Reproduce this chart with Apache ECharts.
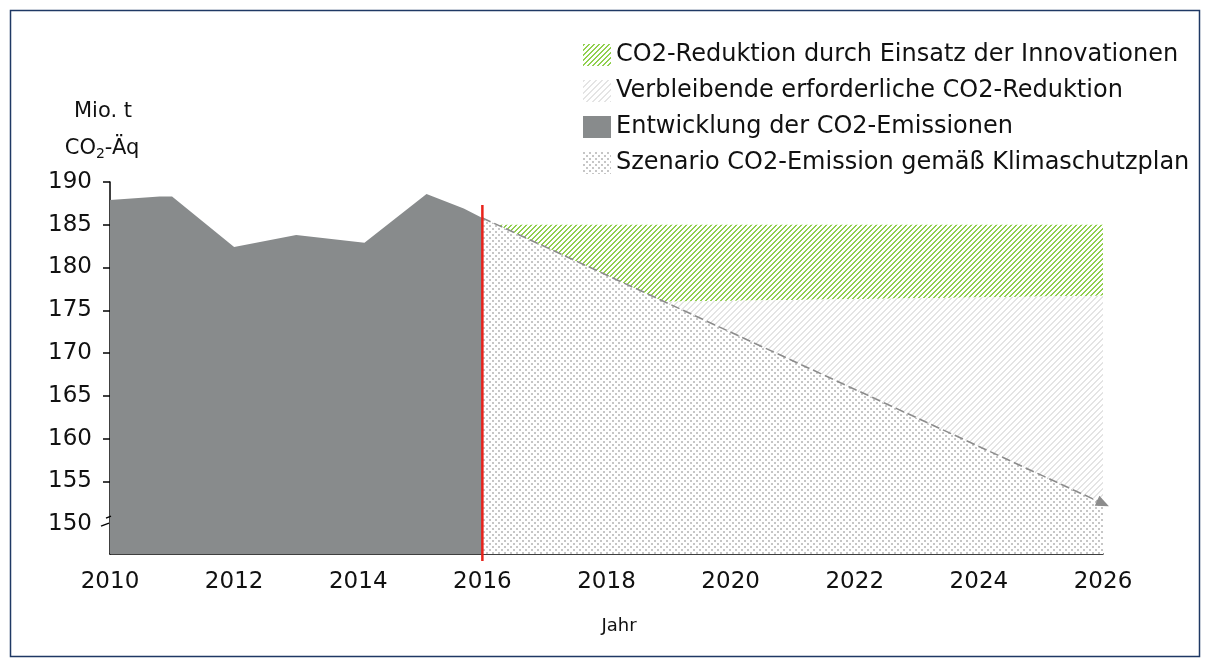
<!DOCTYPE html>
<html>
<head>
<meta charset="utf-8">
<script src="https://cdn.jsdelivr.net/npm/echarts@6/dist/echarts.min.js"></script>
<style>
html,body{margin:0;padding:0;background:#fff;}
#chart{width:1206px;height:662px;}
</style>
</head>
<body>
<div id="chart"></div>
<script>
// ---- data ----
const xTicks = [2010, 2012, 2014, 2016, 2018, 2020, 2022, 2024, 2026];
const yTicks = [150, 155, 160, 165, 170, 175, 180, 185, 190];
const emissionYears  = [2010, 2010.8, 2011, 2012, 2013, 2014.1, 2015.1, 2015.7, 2016];
const emissionValues = [187.9, 188.3, 188.3, 182.4, 183.8, 182.9, 188.6, 186.9, 185.8];
const scenarioYears  = [2016, 2026];
const scenarioValues = [185.8, 152.4];
const innovationTop = 185.0;
const innovationBottomYears  = [2018.93, 2026];
const innovationBottomValues = [176.0, 176.7];
const markerYear = 2016;
const markerTop = 187.3;
const yMin = 146.5, yMax = 190;

const names = {
  green: 'CO2-Reduktion durch Einsatz der Innovationen',
  light: 'Verbleibende erforderliche CO2-Reduktion',
  grey: 'Entwicklung der CO2-Emissionen',
  dots: 'Szenario CO2-Emission gemäß Klimaschutzplan'
};

// ---- patterns ----
function stripes(fg, bg, size, width) {
  const c = document.createElement('canvas');
  c.width = size; c.height = size;
  const ctx = c.getContext('2d');
  ctx.fillStyle = bg; ctx.fillRect(0, 0, size, size);
  ctx.fillStyle = fg;
  for (let x = 0; x < size; x++) for (let y = 0; y < size; y++) {
    if ((x + y) % size < width) ctx.fillRect(x, y, 1, 1);
  }
  return { image: c, repeat: 'repeat' };
}
function dots(fg, bg) {
  const c = document.createElement('canvas');
  c.width = 6; c.height = 6;
  const ctx = c.getContext('2d');
  ctx.fillStyle = bg; ctx.fillRect(0, 0, 6, 6);
  ctx.fillStyle = fg;
  ctx.fillRect(0, 0, 2, 2);
  ctx.fillRect(3, 3, 2, 2);
  return { image: c, repeat: 'repeat' };
}
const greenPat = stripes('#92d050', '#ffffff', 5, 2);
const lightPat = stripes('#e4e4e4', '#ffffff', 6, 2);
const dotPat = dots('#c6c6c6', '#ffffff');
const greyCol = '#888b8c';

function scenarioYearAt(v) {
  const [x0, x1] = scenarioYears, [y0, y1] = scenarioValues;
  return x0 + (v - y0) * (x1 - x0) / (y1 - y0);
}

function polySeries(name, fill, pointsFn, z) {
  return {
    type: 'custom', name: name, z: z,
    itemStyle: { color: fill },
    data: [0],
    renderItem: function (params, api) {
      const pts = pointsFn().map(p => api.coord(p));
      return { type: 'polygon', shape: { points: pts }, style: { fill: fill, stroke: null } };
    }
  };
}

const chart = echarts.init(document.getElementById('chart'), null, { renderer: 'canvas' });
const FONT = 'DejaVu Sans';

const option = {
  animation: false,
  backgroundColor: '#ffffff',
  textStyle: { fontFamily: FONT },
  grid: { left: 110, right: 103, top: 182, bottom: 108 },
  legend: {
    orient: 'vertical', left: 578, top: 38,
    itemWidth: 28, itemHeight: 22, itemGap: 12,
    textStyle: { fontFamily: FONT, fontSize: 24, color: '#111' },
    data: [
      { name: names.green, icon: 'rect', itemStyle: { color: greenPat } },
      { name: names.light, icon: 'rect', itemStyle: { color: lightPat } },
      { name: names.grey, icon: 'rect', itemStyle: { color: greyCol } },
      { name: names.dots, icon: 'rect', itemStyle: { color: dotPat } }
    ],
    selectedMode: false
  },
  xAxis: {
    type: 'value', min: xTicks[0], max: xTicks[xTicks.length - 1], interval: 2,
    axisLine: { lineStyle: { color: '#000', width: 1.5 } },
    axisTick: { show: false },
    splitLine: { show: false },
    axisLabel: { customValues: xTicks, formatter: v => String(v), fontFamily: FONT, fontSize: 23, color: '#111', margin: 17 }
  },
  yAxis: {
    type: 'value', min: yMin, max: yMax,
    axisLine: { show: true, onZero: false, lineStyle: { color: '#000', width: 1.5 } },
    axisTick: { show: true, customValues: yTicks.slice(1), length: 7, lineStyle: { color: '#000', width: 1.5 } },
    splitLine: { show: false },
    axisLabel: { customValues: yTicks, formatter: v => String(v), fontFamily: FONT, fontSize: 23, color: '#111', margin: 18 }
  },
  graphic: [
    { type: 'rect', left: 8, top: 8, shape: { width: 1189, height: 646 }, style: { fill: null, stroke: '#1f3864', lineWidth: 1.5 }, silent: true },
    { type: 'text', x: 103, y: 112, style: { text: 'Mio. t', fontFamily: FONT, fontSize: 21, fill: '#111', align: 'center', verticalAlign: 'middle' } },
    { type: 'text', x: 102, y: 149, style: {
        text: '{a|CO}{s|2}{a|-Äq}', align: 'center', verticalAlign: 'middle',
        rich: { a: { fontFamily: FONT, fontSize: 21, fill: '#111' }, s: { fontFamily: FONT, fontSize: 14, fill: '#111', padding: [10, 0, 0, 0] } }
      } },
    { type: 'text', x: 619, y: 626, style: { text: 'Jahr', fontFamily: FONT, fontSize: 18, fill: '#111', align: 'center', verticalAlign: 'middle' } }
  ],
  series: [
    {
      type: 'line', name: names.grey, z: 2,
      data: emissionYears.map((x, i) => [x, emissionValues[i]]),
      showSymbol: false, lineStyle: { width: 0 }, itemStyle: { color: greyCol },
      areaStyle: { color: greyCol, opacity: 1, origin: 'start' }
    },
    polySeries(names.dots, dotPat, () => [
      [scenarioYears[0], scenarioValues[0]], [scenarioYears[1], scenarioValues[1]],
      [scenarioYears[1], yMin], [scenarioYears[0], yMin]
    ], 2),
    polySeries(names.green, greenPat, () => {
      const tTop = scenarioYearAt(innovationTop);
      return [
        [tTop, innovationTop], [scenarioYears[1], innovationTop],
        [innovationBottomYears[1], innovationBottomValues[1]],
        [innovationBottomYears[0], innovationBottomValues[0]]
      ];
    }, 2),
    polySeries(names.light, lightPat, () => [
      [innovationBottomYears[0], innovationBottomValues[0]],
      [innovationBottomYears[1], innovationBottomValues[1]],
      [scenarioYears[1], scenarioValues[1]]
    ], 2),
    {
      type: 'line', name: 'Szenario-Linie', z: 5, silent: true,
      data: [],
      markLine: {
        silent: true, animation: false,
        symbol: ['none', 'triangle'], symbolSize: [11, 13],
        label: { show: false },
        lineStyle: { color: '#8c8c8c', width: 1.6, type: [9, 4] },
        data: [[
          { coord: [scenarioYears[0], scenarioValues[0]] },
          { coord: [scenarioYears[1], scenarioValues[1]] }
        ]]
      }
    },
    {
      type: 'custom', name: 'Marker', z: 6, silent: true, data: [0],
      renderItem: function (params, api) {
        const p0 = api.coord([markerYear, markerTop]);
        const p1 = api.coord([markerYear, yMin]);
        const a = api.coord([xTicks[0], yTicks[0]]);
        return {
          type: 'group', children: [
            { type: 'line', shape: { x1: p0[0], y1: p0[1], x2: p1[0], y2: p1[1] + 7 }, style: { stroke: '#e8231b', lineWidth: 2.5 } },
            { type: 'line', shape: { x1: a[0] - 9, y1: a[1] + 2, x2: a[0] - 1, y2: a[1] - 1 }, style: { stroke: '#000', lineWidth: 1.3 } },
            { type: 'line', shape: { x1: a[0] - 4, y1: a[1] - 6, x2: a[0] + 1, y2: a[1] - 8 }, style: { stroke: '#000', lineWidth: 1.3 } }
          ]
        };
      }
    }
  ]
};
chart.setOption(option);
</script>
</body>
</html>
